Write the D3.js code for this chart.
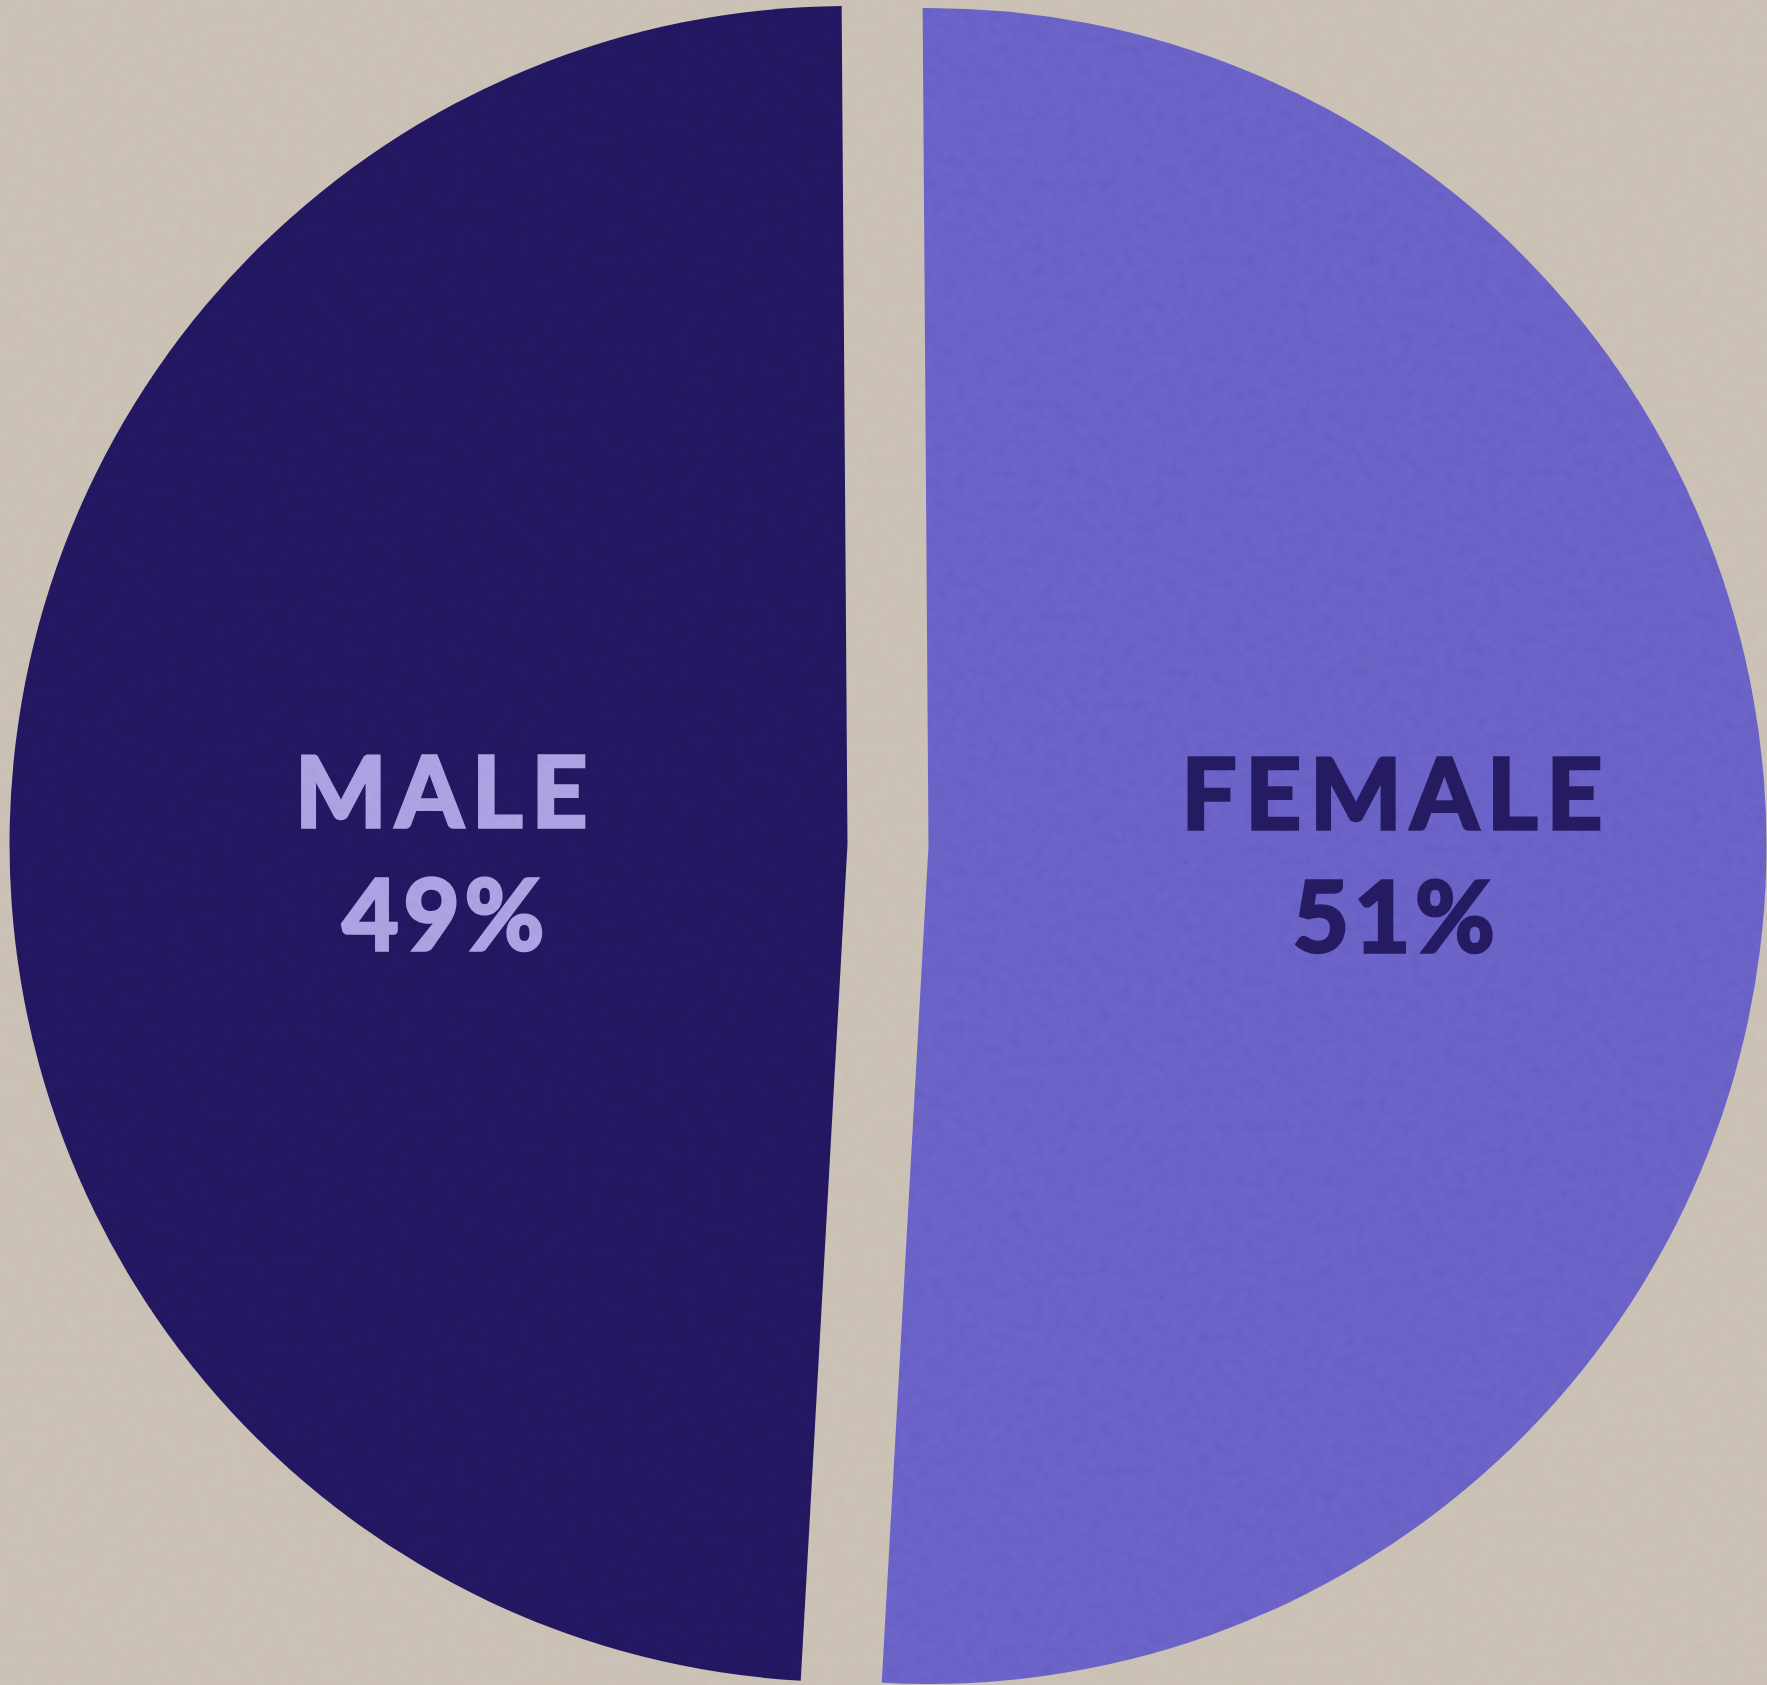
<!DOCTYPE html>
<html>
<head>
<meta charset="utf-8">
<script src="https://cdn.jsdelivr.net/npm/d3@7"></script>
<style>
	body { margin: 0; background: #c9bfb3; }
	svg { display: block; }
</style>
</head>
<body>
<svg id="chart"></svg>
<script>

// data
var labels = ['FEMALE', 'MALE'];
var shares = [51, 49];
var sliceColors = ['#675fc5', '#22165e'];
var textColors = ['#241a5e', '#a89fe1'];

var width = 1767, height = 1685;
var radius = 838;
var cx = 888, cy = 845;
var pull = 40.5; // explode distance of each slice
var labelR = 435;
var nudge = 33; // labels sit a bit right of the centroids
var start = -0.4 * Math.PI / 180;

var svg = d3.select('#chart')
	.attr('width', width)
	.attr('height', height);

// paper grain
var defs = svg.append('defs');
var grain = defs.append('filter')
	.attr('id', 'grain')
	.attr('x', 0).attr('y', 0)
	.attr('width', '100%').attr('height', '100%');
grain.append('feTurbulence')
	.attr('type', 'fractalNoise')
	.attr('baseFrequency', 0.09)
	.attr('numOctaves', 3)
	.attr('seed', 7);
grain.append('feColorMatrix')
	.attr('type', 'matrix')
	.attr('values', '1 0 0 0 0  1 0 0 0 0  1 0 0 0 0  0 0 0 0 1');

svg.append('rect')
	.attr('width', width)
	.attr('height', height)
	.style('fill', '#c9bfb3');

var pie = d3.pie()
	.sort(null)
	.startAngle(start)
	.endAngle(start + 2 * Math.PI);

var arc = d3.arc()
	.innerRadius(0)
	.outerRadius(radius);

var labelArc = d3.arc()
	.innerRadius(labelR)
	.outerRadius(labelR);

var slices = pie(shares);

var g = svg.append('g')
	.attr('transform', 'translate(' + cx + ',' + cy + ')');

var slice = g.selectAll('g.slice')
	.data(slices)
	.enter().append('g')
	.attr('class', 'slice')
	.attr('transform', function(d) {
		var mid = (d.startAngle + d.endAngle) / 2;
		return 'translate(' + (pull * Math.sin(mid)) + ',' + (-pull * Math.cos(mid)) + ')';
	});

slice.append('path')
	.attr('d', arc)
	.style('fill', function(d, i) { return sliceColors[i]; })
	.attr('stroke', 'none');

// both labels on the same line, x from the label arc
// (thin stroke in the same colour makes the bold face heavier)
slice.append('text')
	.attr('x', function(d) { return labelArc.centroid(d)[0] + nudge; })
	.attr('y', -17)
	.text(function(d, i) { return labels[i]; })
	.attr('text-anchor', 'middle')
	.style('font-family', 'Lato, sans-serif')
	.style('font-weight', 700)
	.style('font-size', '97px')
	.style('letter-spacing', '9px')
	.style('fill', function(d, i) { return textColors[i]; })
	.attr('stroke', function(d, i) { return textColors[i]; })
	.attr('stroke-width', 3.5)
	.attr('stroke-linejoin', 'miter');

slice.append('text')
	.attr('x', function(d) { return labelArc.centroid(d)[0] + nudge; })
	.attr('y', 106)
	.text(function(d) { return d.data + '%'; })
	.attr('text-anchor', 'middle')
	.style('font-family', 'Lato, sans-serif')
	.style('font-weight', 700)
	.style('font-size', '97px')
	.style('letter-spacing', '5px')
	.style('fill', function(d, i) { return textColors[i]; })
	.attr('stroke', function(d, i) { return textColors[i]; })
	.attr('stroke-width', 3.5)
	.attr('stroke-linejoin', 'miter');

// texture on top of everything
svg.append('rect')
	.attr('width', width)
	.attr('height', height)
	.attr('filter', 'url(#grain)')
	.style('opacity', 0.07)
	.style('mix-blend-mode', 'overlay')
	.style('pointer-events', 'none');

</script>
</body>
</html>
